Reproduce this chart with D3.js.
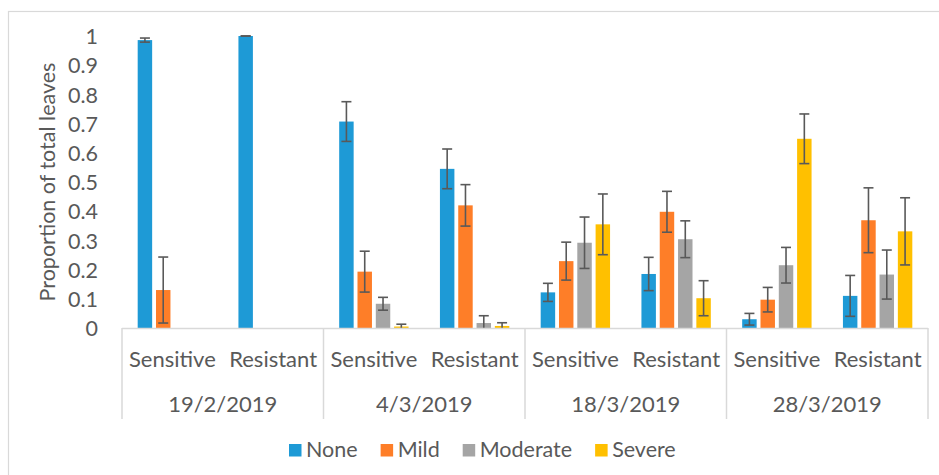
<!DOCTYPE html>
<html><head><meta charset="utf-8">
<script src="https://cdn.jsdelivr.net/npm/d3@7"></script>
<style>html,body{margin:0;padding:0;background:#fff;}svg{display:block;}</style>
</head><body>
<svg id="chart" width="939" height="475"></svg>
<script>
const dates = ["19/2/2019", "4/3/2019", "18/3/2019", "28/3/2019"];
const cultivars = ["Sensitive", "Resistant"];
const severities = ["None", "Mild", "Moderate", "Severe"];
const colors = ["#1E9AD6", "#FE7E28", "#A5A5A5", "#FFC000"];
// values per category in order: date x cultivar
const noneVals     = [0.986, 1.000, 0.707, 0.545, 0.122, 0.185, 0.030, 0.110];
const mildVals     = [0.130, 0.000, 0.193, 0.420, 0.229, 0.398, 0.097, 0.369];
const moderateVals = [0.000, 0.000, 0.083, 0.017, 0.292, 0.304, 0.215, 0.183];
const severeVals   = [0.000, 0.000, 0.005, 0.007, 0.355, 0.102, 0.648, 0.331];
const noneErr      = [0.007, 0.000, 0.068, 0.068, 0.031, 0.057, 0.020, 0.070];
const mildErr      = [0.113, null,  0.070, 0.071, 0.065, 0.070, 0.042, 0.111];
const moderateErr  = [null,  null,  0.022, 0.025, 0.088, 0.063, 0.061, 0.084];
const severeErr    = [null,  null,  0.008, 0.011, 0.104, 0.060, 0.085, 0.115];
const yTicks = [0, 0.1, 0.2, 0.3, 0.4, 0.5, 0.6, 0.7, 0.8, 0.9, 1];
const yTitle = "Proportion of total leaves";

const seriesVals = [noneVals, mildVals, moderateVals, severeVals];
const seriesErr = [noneErr, mildErr, moderateErr, severeErr];

const svg = d3.select("#chart");
const font = "Lato, 'Liberation Sans', sans-serif";
const textColor = "#595959";
const lineColor = "#D9D9D9";

// chart border
svg.append("rect").attr("x", 8.5).attr("y", 11.5).attr("width", 1000).attr("height", 600)
  .attr("fill", "none").attr("stroke", lineColor).attr("stroke-width", 1.2);

const plotLeft = 122, plotRight = 928, plotTop = 36, plotBottom = 328;
const cats = [];
dates.forEach(d => cultivars.forEach(c => cats.push(d + "|" + c)));

const xDate = d3.scaleBand().domain(dates).range([plotLeft, plotRight]);
const xCat = d3.scaleBand().domain(cats).range([plotLeft, plotRight]);
const xSer = d3.scaleBand().domain(severities).range([0, xCat.bandwidth()])
  .paddingInner(0.21).paddingOuter(0.857);
const y = d3.scaleLinear().domain([0, 1]).range([plotBottom, plotTop]);

// y tick labels
const yAxis = d3.axisLeft(y).tickValues(yTicks).tickFormat(d3.format("~g")).tickSize(0).tickPadding(0);
const yg = svg.append("g").attr("transform", "translate(98,0)").call(yAxis);
yg.select(".domain").remove();
yg.selectAll("text").attr("fill", textColor).style("font-family", font).style("font-size", "21.5px")
  .attr("dy", "0.36em");

// y title
svg.append("text").attr("transform", `translate(55,${(plotTop + plotBottom) / 2}) rotate(-90)`)
  .attr("text-anchor", "middle").attr("fill", textColor)
  .style("font-family", font).style("font-size", "21.5px").text(yTitle);

// bars
const barData = [];
cats.forEach((c, i) => severities.forEach((s, j) => {
  barData.push({cat: c, ser: s, j, v: seriesVals[j][i], e: seriesErr[j][i]});
}));
svg.append("g").selectAll("rect").data(barData.filter(d => d.v > 0)).join("rect")
  .attr("x", d => xCat(d.cat) + xSer(d.ser))
  .attr("y", d => y(d.v))
  .attr("width", xSer.bandwidth())
  .attr("height", d => y(0) - y(d.v))
  .attr("fill", d => colors[d.j]);

// error bars
const eg = svg.append("g").attr("stroke", "#595959").attr("stroke-width", 1.6).attr("fill", "none");
barData.filter(d => d.e !== null).forEach(d => {
  const cx = xCat(d.cat) + xSer(d.ser) + xSer.bandwidth() / 2;
  const hi = d.v + d.e, lo = Math.max(0, d.v - d.e);
  eg.append("line").attr("x1", cx).attr("x2", cx).attr("y1", y(hi)).attr("y2", y(lo));
  eg.append("line").attr("x1", cx - 5).attr("x2", cx + 5).attr("y1", y(hi)).attr("y2", y(hi));
  if (lo > 0) eg.append("line").attr("x1", cx - 5).attr("x2", cx + 5).attr("y1", y(lo)).attr("y2", y(lo));
});

// x axis (multi-level)
const ax = svg.append("g").attr("stroke", lineColor).attr("stroke-width", 1.5);
ax.append("line").attr("x1", plotLeft).attr("x2", plotRight).attr("y1", plotBottom + 0.5).attr("y2", plotBottom + 0.5);
const bounds = dates.map(d => xDate(d)).concat([plotRight]);
ax.selectAll("line.div").data(bounds).join("line").attr("class", "div")
  .attr("x1", d => d).attr("x2", d => d).attr("y1", plotBottom).attr("y2", 419);

svg.append("g").selectAll("text").data(cats).join("text")
  .attr("x", d => xCat(d) + xCat.bandwidth() / 2).attr("y", 367)
  .attr("text-anchor", "middle").attr("fill", textColor)
  .style("font-family", font).style("font-size", "22px")
  .text(d => d.split("|")[1]);
svg.append("g").selectAll("text").data(dates).join("text")
  .attr("x", d => xDate(d) + xDate.bandwidth() / 2).attr("y", 412)
  .attr("text-anchor", "middle").attr("fill", textColor)
  .style("font-family", font).style("font-size", "22px")
  .text(d => d);

// legend
const lg = svg.append("g");
let lx = 289;
severities.forEach((s, j) => {
  lg.append("rect").attr("x", lx).attr("y", 444).attr("width", 12.5).attr("height", 12.5).attr("fill", colors[j]);
  const t = lg.append("text").attr("x", lx + 17).attr("y", 457).attr("fill", textColor)
    .style("font-family", font).style("font-size", "21.5px").text(s);
  lx += 17 + t.node().getComputedTextLength() + 23;
});
</script>
</body></html>
